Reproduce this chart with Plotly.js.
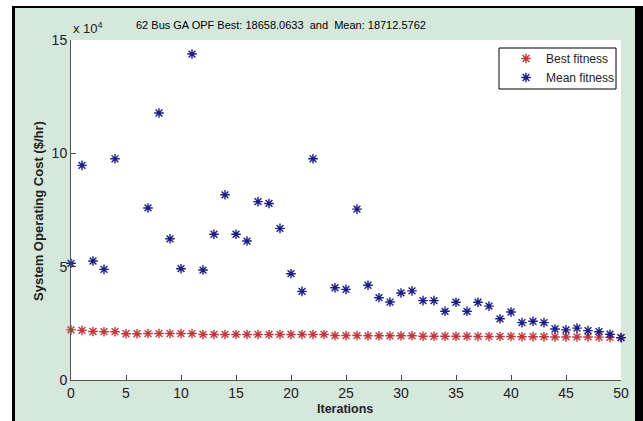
<!DOCTYPE html>
<html>
<head>
<meta charset="utf-8">
<script src="https://cdn.plot.ly/plotly-3.0.1.min.js"></script>
<style>
  html, body { margin: 0; padding: 0; background: #ffffff; width: 643px; height: 421px; overflow: hidden; }
  #frame { position: absolute; left: 12px; top: 6px; width: 620px; height: 430px;
           border-left: 3px solid #000; border-top: 2px solid #000; border-right: 8px solid #000;
           background: rgb(214,231,220); }
  #plot { position: absolute; left: 0; top: 0; width: 643px; height: 421px; }
</style>
</head>
<body>
<div id="frame"></div>
<div id="plot"></div>
<script>
// Iterations 0..50
const iterations = [];
for (let i = 0; i <= 50; i++) iterations.push(i);

// Best fitness ($/hr)
const bestFitness = [
  22100, 21900, 21400, 21300, 21300, 20400, 20400, 20500, 20500, 20500,
  20500, 20500, 20100, 20100, 20100, 20100, 20100, 20100, 20100, 20100,
  20100, 20100, 20100, 20100, 19600, 19600, 19600, 19500, 19500, 19500,
  19500, 19500, 19300, 19300, 19300, 19300, 19300, 19200, 19200, 19200,
  19200, 19100, 19100, 19100, 19000, 19000, 19000, 19000, 18900, 18800,
  18658.0633
];

// Mean fitness ($/hr); null = off the visible range
const meanFitness = [
  51500, 94700, 52500, 48800, 97600, null, null, 75900, 117800, 62300,
  49100, 143800, 48500, 64300, 81700, 64300, 61300, 78700, 77900, 66900,
  46900, 39100, 97600, null, 40700, 40000, 75400, 41800, 36300, 34400,
  38400, 39300, 35000, 35000, 30300, 34300, 30300, 34300, 32600, 27000,
  30000, 25300, 25900, 25300, 22500, 22100, 22900, 21800, 21300, 20200,
  18712.5762
];

const yTickVals = [0, 50000, 100000, 150000];
const yTickText = ['0', '5', '10', '15'];
const xTickVals = [0, 5, 10, 15, 20, 25, 30, 35, 40, 45, 50];

const titleText = '62 Bus GA OPF Best: 18658.0633\u00a0 and\u00a0 Mean: 18712.5762';
const FONT = 'Liberation Sans Narrow, Arial Narrow, Liberation Sans, Arial, sans-serif';

const traces = [
  { x: iterations, y: bestFitness, name: 'Best fitness', type: 'scatter', mode: 'markers', cliponaxis: false,
    marker: { symbol: 'asterisk-open', size: 8, color: '#c0383c', line: { color: '#c0383c', width: 1.4 } } },
  { x: iterations, y: meanFitness, name: 'Mean fitness', type: 'scatter', mode: 'markers', cliponaxis: false,
    marker: { symbol: 'asterisk-open', size: 8, color: '#1c1c86', line: { color: '#1c1c86', width: 1.4 } } }
];

// paper coords helpers: plot area x 71..621, y 40..380
const px = v => (v - 71) / 550;
const py = v => (380 - v) / 340;

const layout = {
  width: 643, height: 421,
  margin: { l: 71, r: 22, t: 40, b: 41, pad: 0 },
  paper_bgcolor: 'rgba(0,0,0,0)',
  plot_bgcolor: '#ffffff',
  font: { family: FONT, color: '#222' },
  showlegend: true,
  legend: {
    x: px(506), xanchor: 'left', y: py(44), yanchor: 'top',
    bgcolor: 'rgba(0,0,0,0)', borderwidth: 0,
    font: { family: FONT, size: 12, color: '#222' },
    itemwidth: 30
  },
  shapes: [
    { type: 'rect', xref: 'paper', yref: 'paper', x0: px(499), x1: px(616), y0: py(89), y1: py(48),
      line: { color: '#000', width: 1 }, fillcolor: '#ffffff', layer: 'below' }
  ],
  xaxis: {
    range: [0, 50], tickvals: xTickVals, ticks: 'inside', ticklen: 5, tickwidth: 1, tickcolor: '#444',
    showline: true, linecolor: '#555', linewidth: 1, showgrid: false, zeroline: false,
    tickfont: { family: FONT, size: 14, color: '#222' }
  },
  yaxis: {
    range: [0, 150000], tickvals: yTickVals, ticktext: yTickText, ticks: 'inside', ticklen: 5, tickwidth: 1, tickcolor: '#444',
    showline: true, linecolor: '#555', linewidth: 1, showgrid: false, zeroline: false,
    tickfont: { family: FONT, size: 14, color: '#222' }
  },
  annotations: [
    { text: titleText, xref: 'paper', yref: 'paper', x: px(281), y: py(25),
      xanchor: 'center', yanchor: 'middle', showarrow: false, font: { family: FONT, size: 11, color: '#000' } },
    { text: 'x 10<sup>4</sup>', xref: 'paper', yref: 'paper', x: px(71), y: py(28),
      xanchor: 'left', yanchor: 'middle', showarrow: false, font: { family: FONT, size: 13, color: '#222' } },
    { text: '<b>System Operating Cost ($/hr)</b>', xref: 'paper', yref: 'paper', x: px(38), y: py(211),
      xanchor: 'center', yanchor: 'middle', textangle: -90, showarrow: false, font: { family: FONT, size: 13, color: '#222' } },
    { text: '<b>Iterations</b>', xref: 'paper', yref: 'paper', x: px(344.5), y: py(409),
      xanchor: 'center', yanchor: 'middle', showarrow: false, font: { family: FONT, size: 12.5, color: '#222' } }
  ]
};

Plotly.newPlot('plot', traces, layout, { displayModeBar: false, staticPlot: true });
</script>
</body>
</html>
